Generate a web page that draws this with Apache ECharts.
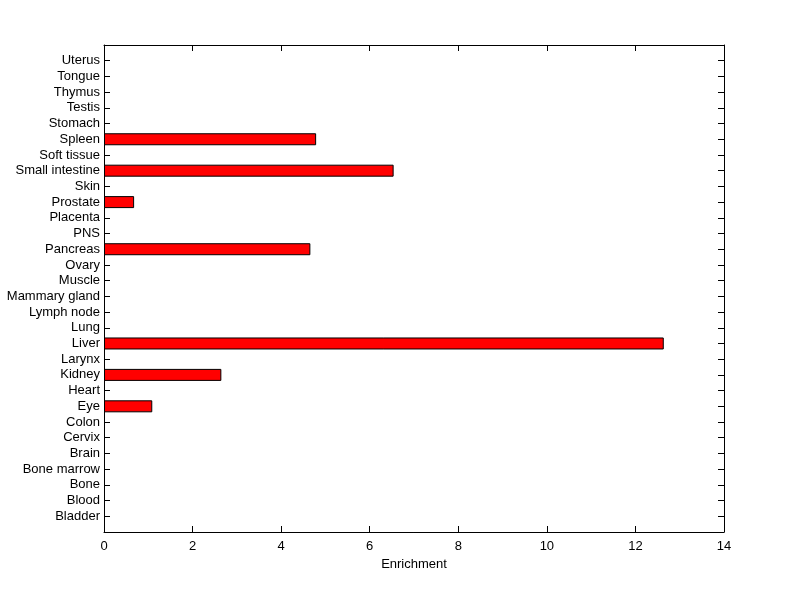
<!DOCTYPE html>
<html><head><meta charset="utf-8">
<script src="https://cdn.jsdelivr.net/npm/echarts@6/dist/echarts.min.js"></script>
<style>html,body{margin:0;padding:0;background:#fff}#c{width:800px;height:599px}</style>
</head><body><div id="c"></div>
<script>
const categories = ['Bladder','Blood','Bone','Bone marrow','Brain','Cervix','Colon','Eye','Heart','Kidney','Larynx','Liver','Lung','Lymph node','Mammary gland','Muscle','Ovary','Pancreas','PNS','Placenta','Prostate','Skin','Small intestine','Soft tissue','Spleen','Stomach','Testis','Thymus','Tongue','Uterus'];
const enrichment = [0,0,0,0,0,0,0,1.09,0,2.65,0,12.64,0,0,0,0,0,4.66,0,0,0.68,0,6.54,0,4.79,0,0,0,0,0];
const xTicks = [0,2,4,6,8,10,12,14];

const padded = [''].concat(categories, ['']);
const data = [null].concat(enrichment.map(v => v === 0 ? null : v), [null]);
const font = {fontFamily:'Liberation Sans, Arial, sans-serif', fontSize:13, color:'#000'};
const lineStyle = {color:'#000', width:1};
const tick = {show:true, inside:true, length:6, lineStyle, interval:0};
const chart = echarts.init(document.getElementById('c'));
chart.setOption({
  animation:false,
  grid:{left:104, right:76, top:45, bottom:67, containLabel:false},
  xAxis:[{
    type:'value', min:xTicks[0], max:xTicks[xTicks.length-1], interval:2, position:'bottom',
    axisLine:{show:true, lineStyle}, axisTick:tick,
    splitLine:{show:false}, axisLabel:Object.assign({margin:8}, font),
    name:'Enrichment', nameLocation:'middle', nameGap:25, nameTextStyle:font
  },{
    type:'value', min:xTicks[0], max:xTicks[xTicks.length-1], interval:2, position:'top',
    axisLine:{show:true, lineStyle}, axisTick:tick,
    splitLine:{show:false}, axisLabel:{show:false}
  }],
  yAxis:[{
    type:'category', data:padded, boundaryGap:false, position:'left',
    axisLine:{show:true, onZero:false, lineStyle}, axisTick:tick,
    axisLabel:Object.assign({margin:4, interval:0}, font), splitLine:{show:false}
  },{
    type:'category', data:padded, boundaryGap:false, position:'right',
    axisLine:{show:true, onZero:false, lineStyle}, axisTick:tick,
    axisLabel:{show:false}, splitLine:{show:false}
  }],
  series:[{
    type:'bar', xAxisIndex:0, yAxisIndex:0, data:data, barWidth:12,
    itemStyle:{color:'#ff0000', borderColor:'#000', borderWidth:1}
  },{
    type:'line', xAxisIndex:1, yAxisIndex:1, data:data, symbol:'none',
    lineStyle:{opacity:0}, silent:true
  }]
});
</script></body></html>
